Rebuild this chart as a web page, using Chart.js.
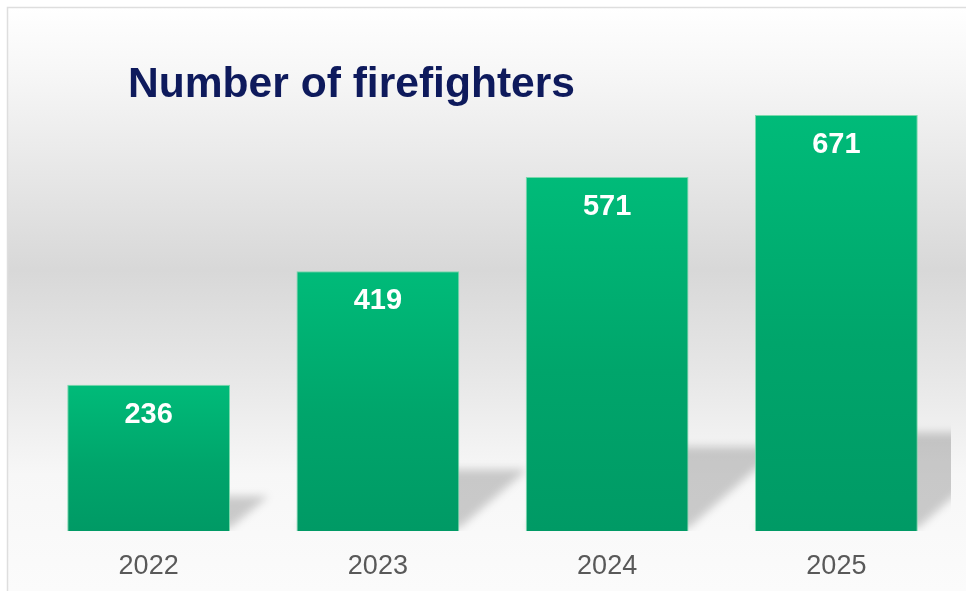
<!DOCTYPE html>
<html>
<head>
<meta charset="utf-8">
<script src="https://cdn.jsdelivr.net/npm/chart.js@4"></script>
<style>
  html, body { margin: 0; padding: 0; background: #fff; }
  #wrap { width: 966px; height: 591px; }
</style>
</head>
<body>
<div id="wrap"><canvas id="myChart"></canvas></div>
<script>
const years = ['2022', '2023', '2024', '2025']
const firefighters = [236, 419, 571, 671]
const titleText = 'Number of firefighters'

// grey backdrop with the frame line
const backdrop = {
    id: 'backdrop',
    beforeDraw(chart) {
        const c = chart.ctx
        const g = c.createLinearGradient(0, 7, 0, 591)
        g.addColorStop(0, '#ffffff')
        g.addColorStop(0.12, '#f6f6f6')
        g.addColorStop(0.45, '#d8d8d8')
        g.addColorStop(0.62, '#e6e6e6')
        g.addColorStop(0.8, '#f7f7f7')
        g.addColorStop(1, '#fbfbfb')
        c.save()
        c.fillStyle = g
        c.fillRect(7, 7, 970, 600)
        c.strokeStyle = '#dedede'
        c.lineWidth = 1.5
        c.strokeRect(7.5, 7.5, 970, 600)
        // title, squeezed a bit like the original
        c.font = 'bold 42px "Liberation Sans", Arial, sans-serif'
        c.fillStyle = '#0e1a5c'
        c.textBaseline = 'alphabetic'
        const w = c.measureText(titleText).width
        c.translate(128, 97)
        c.scale(447 / w, 1)
        c.fillText(titleText, 0, 0)
        c.restore()
    }
}

// soft floor shadow behind each bar
const floorShadow = {
    id: 'floorShadow',
    beforeDatasetsDraw(chart) {
        const c = chart.ctx
        const area = chart.chartArea
        const meta = chart.getDatasetMeta(0)
        c.save()
        c.beginPath()
        c.rect(area.left, 0, area.right - area.left, area.bottom)
        c.clip()
        c.filter = 'blur(4px)'
        c.fillStyle = 'rgba(0,0,0,0.19)'
        meta.data.forEach(bar => {
            const half = bar.width / 2
            const h = (bar.base - bar.y) * 0.237
            const d = h * 1.1
            c.beginPath()
            c.moveTo(bar.x - half, bar.base - 3)
            c.lineTo(bar.x + half, bar.base - 3)
            c.lineTo(bar.x + half + d, bar.base - h)
            c.lineTo(bar.x - half + d, bar.base - h)
            c.closePath()
            c.fill()
        })
        c.restore()
    }
}

// white value labels inside the bars
const valueLabels = {
    id: 'valueLabels',
    afterDatasetsDraw(chart) {
        const c = chart.ctx
        const meta = chart.getDatasetMeta(0)
        c.save()
        c.font = 'bold 29px "Liberation Sans", Arial, sans-serif'
        c.fillStyle = '#ffffff'
        c.textAlign = 'center'
        c.textBaseline = 'middle'
        meta.data.forEach((bar, i) => {
            c.fillText(firefighters[i], bar.x, bar.y + 30)
        })
        c.restore()
    }
}

function barFill(context) {
    const chart = context.chart
    const y = chart.scales.y
    if (!chart.chartArea || !y) return '#00aa70'
    const top = y.getPixelForValue(context.raw)
    const bottom = y.getPixelForValue(0)
    const g = chart.ctx.createLinearGradient(0, top, 0, bottom)
    g.addColorStop(0, '#00bb79')
    g.addColorStop(0.55, '#00a56b')
    g.addColorStop(1, '#009a65')
    return g
}

const ctx = document.getElementById('myChart')
const myChart = new Chart(ctx, {
    type: 'bar',
    data: {
        labels: years,
        datasets: [{
            label: 'Number of firefighters',
            data: firefighters,
            backgroundColor: barFill,
            borderColor: 'rgba(110, 215, 165, 0.9)',
            borderWidth: 1,
            categoryPercentage: 1,
            barPercentage: 0.71
        }]
    },
    options: {
        responsive: true,
        maintainAspectRatio: false,
        animation: false,
        layout: { padding: { left: 34, right: 15, top: 97, bottom: 0 } },
        plugins: {
            legend: { display: false },
            title: { display: false },
            tooltip: { enabled: false }
        },
        scales: {
            x: {
                grid: { display: false, drawTicks: false },
                border: { display: false },
                afterFit(scale) { scale.height = 60 },
                ticks: {
                    color: '#595959',
                    padding: 19,
                    font: { family: '"Liberation Sans", Arial, sans-serif', size: 27 }
                }
            },
            y: {
                display: false,
                min: 0,
                max: 700
            }
        }
    },
    plugins: [backdrop, floorShadow, valueLabels]
})
</script>
</body>
</html>
